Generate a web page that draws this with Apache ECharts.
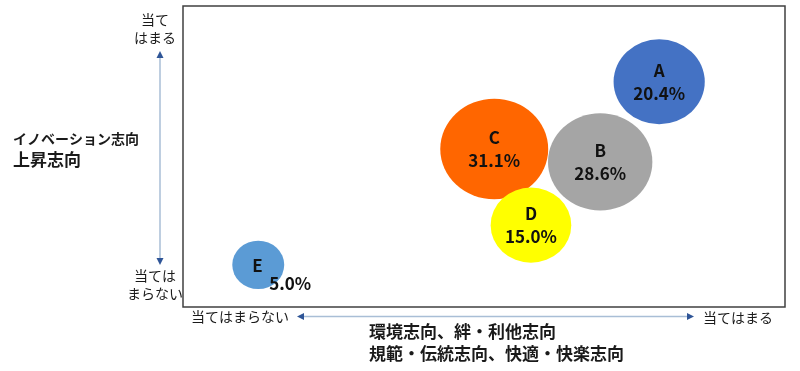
<!DOCTYPE html>
<html>
<head>
<meta charset="utf-8">
<style>
html,body{margin:0;padding:0;background:#fff;}
#c{width:800px;height:371px;}
</style>
<script src="https://cdn.jsdelivr.net/npm/echarts/dist/echarts.min.js"></script>
</head>
<body>
<div id="c"></div>
<script>
// Data
var names = ['A', 'B', 'C', 'D', 'E'];
var xValues = [79.1, 69.3, 51.7, 57.8, 12.5];   // 環境志向… (当てはまらない 0 → 当てはまる 100)
var yValues = [74.8, 48.2, 52.5, 27.2, 14.0];   // イノベーション志向 上昇志向
var shares = [20.4, 28.6, 31.1, 15.0, 5.0];      // %
var colors = ['#4472C4', '#A5A5A5', '#FF6600', '#FFFF00', '#5B9BD5'];

var FONT = '"Noto Sans CJK JP", "Noto Sans", sans-serif';

function bubbleSize(v) {
  var d = 26.5 * Math.pow(v, 0.4);
  return [d * 1.03, d * 0.96];
}

var data = names.map(function (n, i) {
  var item = {
    name: n,
    value: [xValues[i], yValues[i], shares[i]],
    itemStyle: { color: colors[i], opacity: 1 }
  };
  if (n === 'E') {
    item.label = {
      position: [20, 16],
      align: 'left',
      verticalAlign: 'top',
      formatter: function (p) {
        return '{a|' + p.name + '}\n{b|' + p.value[2].toFixed(1) + '%}';
      },
      rich: {
        a: { fontSize: 17, fontWeight: 'bold', fontFamily: FONT, color: '#111', lineHeight: 18 },
        b: { fontSize: 17, fontWeight: 'bold', fontFamily: FONT, color: '#111', lineHeight: 18, padding: [0, 0, 0, 17] }
      }
    };
  }
  return item;
});

var chart = echarts.init(document.getElementById('c'), null, { renderer: 'canvas' });

var arrowColor = '#2F5597';
var lineColor = '#A9BED6';

chart.setOption({
  animation: false,
  grid: { left: 183, right: 15, top: 6, bottom: 64, show: true, borderColor: '#404040', borderWidth: 1.5, backgroundColor: '#fff' },
  xAxis: { type: 'value', min: 0, max: 100, show: false },
  yAxis: { type: 'value', min: 0, max: 100, show: false },
  series: [{
    type: 'scatter',
    data: data,
    symbol: 'circle',
    symbolSize: function (val) { return bubbleSize(val[2]); },
    itemStyle: { opacity: 1 },
    emphasis: { disabled: true },
    label: {
      show: true,
      position: 'inside',
      formatter: function (p) { return p.name + '\n' + p.value[2].toFixed(1) + '%'; },
      fontSize: 17,
      fontWeight: 'bold',
      fontFamily: FONT,
      color: '#111',
      lineHeight: 23
    }
  }],
  graphic: [
    // vertical arrow
    { type: 'line', shape: { x1: 160, y1: 57, x2: 160, y2: 259 }, style: { stroke: lineColor, lineWidth: 1.5 } },
    { type: 'polygon', shape: { points: [[160, 51], [156.5, 58], [163.5, 58]] }, style: { fill: arrowColor } },
    { type: 'polygon', shape: { points: [[160, 265], [156.5, 258], [163.5, 258]] }, style: { fill: arrowColor } },
    // horizontal arrow
    { type: 'line', shape: { x1: 304, y1: 316.5, x2: 687, y2: 316.5 }, style: { stroke: lineColor, lineWidth: 1.5 } },
    { type: 'polygon', shape: { points: [[297, 316.5], [304, 313], [304, 320]] }, style: { fill: arrowColor } },
    { type: 'polygon', shape: { points: [[694, 316.5], [687, 313], [687, 320]] }, style: { fill: arrowColor } },
    // texts
    { type: 'text', x: 155, y: 11, style: { text: '当て\nはまる', fill: '#1a1a1a', font: '14px ' + FONT, align: 'center', lineHeight: 18 } },
    { type: 'text', x: 155, y: 267, style: { text: '当ては\nまらない', fill: '#1a1a1a', font: '14px ' + FONT, align: 'center', lineHeight: 18 } },
    { type: 'text', x: 191, y: 310, style: { text: '当てはまらない', fill: '#1a1a1a', font: '14px ' + FONT } },
    { type: 'text', x: 703, y: 311, style: { text: '当てはまる', fill: '#1a1a1a', font: '14px ' + FONT } },
    { type: 'text', x: 13, y: 132, style: { text: 'イノベーション志向', fill: '#1a1a1a', font: 'bold 14px ' + FONT } },
    { type: 'text', x: 13, y: 151, style: { text: '上昇志向', fill: '#1a1a1a', font: 'bold 17px ' + FONT } },
    { type: 'text', x: 369, y: 323, style: { text: '環境志向、絆・利他志向', fill: '#1a1a1a', font: 'bold 17px ' + FONT } },
    { type: 'text', x: 369, y: 345, style: { text: '規範・伝統志向、快適・快楽志向', fill: '#1a1a1a', font: 'bold 17px ' + FONT } }
  ]
});
</script>
</body>
</html>
